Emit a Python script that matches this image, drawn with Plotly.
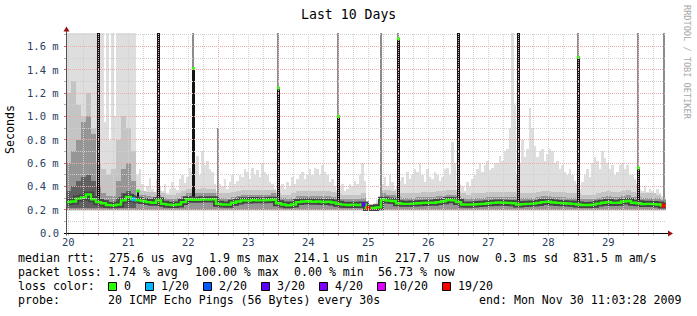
import math
import plotly.graph_objects as go

# ---------------- data (values in milliseconds, x in day-of-month) ----------------
start_day = 20.45833         # Nov 20 ~11:00
end_day = 30.45833           # Mon Nov 30 11:03:28
step = 1 / 12                # 2-hour samples
n_samples = 120
t = [20.5 + i * step for i in range(n_samples)]
hstep = 1 / 24               # 1-hour samples for the light smoke
t_hour = [20.5 - hstep / 2 + j * hstep for j in range(240)]

median_rtt = [
    0.265, 0.27, 0.295, 0.305, 0.33, 0.29,
    0.265, 0.255, 0.24, 0.237, 0.243, 0.28, 0.31, 0.29,
    0.28, 0.275, 0.265, 0.26, 0.28, 0.25, 0.243, 0.24, 0.245, 0.265,
    0.29, 0.285, 0.285, 0.29, 0.287, 0.29,
    0.25, 0.245, 0.243, 0.26, 0.27, 0.28, 0.278, 0.282, 0.28, 0.28, 0.283, 0.285,
    0.255, 0.245, 0.238, 0.245, 0.265, 0.27, 0.272, 0.268, 0.27, 0.265, 0.268, 0.262,
    0.25, 0.243, 0.24, 0.243, 0.24, 0.245,
    0.215, 0.215, 0.22, 0.285, 0.278, 0.275,
    0.255, 0.25, 0.25, 0.252, 0.255, 0.258, 0.26, 0.26, 0.265, 0.272, 0.283, 0.28,
    0.265, 0.245, 0.243, 0.245, 0.248, 0.25, 0.255, 0.258, 0.262, 0.26, 0.258, 0.255,
    0.245, 0.248, 0.25, 0.252, 0.258, 0.265, 0.268, 0.262, 0.258, 0.255, 0.253, 0.25,
    0.245, 0.24, 0.24, 0.243, 0.252, 0.26, 0.265, 0.258, 0.26, 0.27, 0.275, 0.26,
    0.255, 0.248, 0.25, 0.248, 0.245, 0.235,
]

# top of the light smoke (max ping), hourly
smoke_max = [
    # Nov 20 11h - Nov 21 ~15h : very noisy
    1.8, 1.8, 1.8, 1.8, 1.8, 1.8, 1.8, 1.8, 1.8, 1.8, 1.8, 1.8,
    1.8, 1.8, 1.8, 0.95, 1.8, 0.8, 1.8, 1.0, 1.8, 1.8, 1.8, 1.8,
    1.8, 1.8, 1.8, 1.8,
    # Nov 21 afternoon - Nov 22
    0.5, 0.55, 0.42, 0.36, 0.4, 0.47, 0.38, 0.35, 0.46, 0.4, 0.36, 0.42,
    0.34, 0.38, 0.44, 0.39, 0.37, 0.46, 0.5, 0.43, 0.48, 0.56, 0.52, 0.6,
    0.66, 0.5, 0.7, 0.58, 0.62, 0.55, 0.52, 0.42,
    # Nov 23
    0.36, 0.42, 0.4, 0.46, 0.38, 0.44, 0.5, 0.42, 0.45, 0.5, 0.48, 0.55,
    0.52, 0.46, 0.56, 0.5, 0.54, 0.48, 0.6, 0.52, 0.5, 0.44, 0.42, 0.38,
    # Nov 24
    0.36, 0.4, 0.42, 0.38, 0.44, 0.4, 0.48, 0.42, 0.46, 0.5, 0.52, 0.46,
    0.5, 0.55, 0.5, 0.56, 0.55, 0.5, 0.58, 0.52, 0.5, 0.44, 0.46, 0.4,
    # Nov 25
    0.37, 0.4, 0.42, 0.36, 0.38, 0.42, 0.4, 0.45, 0.42, 0.5, 0.6, 0.45,
    0.26, 0.25, 0.25, 0.26, 0.28, 0.3, 0.42, 0.48, 0.4, 0.5, 0.44, 0.38,
    # Nov 26
    0.4, 0.45, 0.48, 0.42, 0.52, 0.46, 0.5, 0.55, 0.52, 0.6, 0.5, 0.44,
    0.55, 0.48, 0.46, 0.52, 0.5, 0.45, 0.48, 0.55, 0.56, 0.5, 0.78, 0.6,
    # Nov 27
    0.38, 0.42, 0.4, 0.36, 0.44, 0.4, 0.46, 0.5, 0.55, 0.6, 0.52, 0.58,
    0.62, 0.54, 0.56, 0.6, 0.6, 0.66, 0.62, 0.7, 0.72, 0.9, 1.8, 1.1,
    # Nov 28
    0.5, 0.6, 0.8, 0.65, 0.72, 1.07, 0.9, 0.75, 0.65, 0.7, 0.72, 0.62,
    0.68, 0.72, 0.7, 0.6, 0.62, 0.55, 0.58, 0.52, 0.5, 0.55, 0.5, 0.45,
    # Nov 29
    0.42, 0.38, 0.44, 0.5, 0.55, 0.48, 0.6, 0.65, 0.62, 0.55, 0.7, 0.64,
    0.6, 0.55, 0.58, 0.5, 0.52, 0.58, 0.6, 0.55, 0.58, 0.5, 0.5, 0.46,
    # Nov 30
    0.42, 0.38, 0.36, 0.4, 0.35, 0.38, 0.36, 0.33, 0.38, 0.34, 0.32, 0.3,
]

# top of the medium-light smoke (2-hourly)
smoke_q2 = [
    1.2, 1.3, 1.1, 1.0, 1.2, 0.9,
    0.6, 0.55, 0.5, 0.55, 0.8, 1.0, 0.9, 0.7,
    0.37, 0.36, 0.35, 0.35, 0.37, 0.34, 0.33, 0.33, 0.34, 0.36,
    0.38, 0.38, 0.38, 0.39, 0.38, 0.38,
    0.34, 0.34, 0.34, 0.35, 0.36, 0.37, 0.37, 0.37, 0.37, 0.37, 0.37, 0.37,
    0.34, 0.33, 0.33, 0.34, 0.36, 0.36, 0.36, 0.36, 0.36, 0.36, 0.36, 0.35,
    0.34, 0.33, 0.33, 0.33, 0.33, 0.34,
    0.25, 0.25, 0.26, 0.37, 0.37, 0.36,
    0.34, 0.34, 0.34, 0.34, 0.34, 0.35, 0.35, 0.35, 0.36, 0.36, 0.37, 0.37,
    0.35, 0.34, 0.33, 0.34, 0.34, 0.34, 0.35, 0.35, 0.35, 0.35, 0.35, 0.35,
    0.34, 0.34, 0.34, 0.34, 0.35, 0.36, 0.36, 0.35, 0.35, 0.35, 0.34, 0.34,
    0.34, 0.33, 0.33, 0.33, 0.34, 0.35, 0.36, 0.35, 0.35, 0.36, 0.37, 0.35,
    0.34, 0.34, 0.34, 0.34, 0.33, 0.3,
]

# top of the medium smoke (2-hourly)
smoke_q3 = [
    0.6, 0.7, 0.8, 0.95, 1.0, 0.85,
    0.4, 0.34, 0.32, 0.32, 0.45, 0.55, 0.6, 0.45,
    0.33, 0.33, 0.32, 0.31, 0.33, 0.3, 0.29, 0.29, 0.3, 0.32,
    0.34, 0.34, 0.34, 0.34, 0.34, 0.34,
    0.3, 0.3, 0.29, 0.31, 0.32, 0.33, 0.33, 0.33, 0.33, 0.33, 0.33, 0.34,
    0.31, 0.3, 0.29, 0.3, 0.32, 0.32, 0.32, 0.32, 0.32, 0.32, 0.32, 0.31,
    0.3, 0.29, 0.29, 0.29, 0.29, 0.3,
    0.24, 0.24, 0.25, 0.34, 0.33, 0.33,
    0.31, 0.3, 0.3, 0.3, 0.31, 0.31, 0.31, 0.31, 0.32, 0.32, 0.33, 0.33,
    0.32, 0.3, 0.29, 0.3, 0.3, 0.3, 0.31, 0.31, 0.31, 0.31, 0.31, 0.31,
    0.3, 0.3, 0.3, 0.3, 0.31, 0.32, 0.32, 0.31, 0.31, 0.31, 0.3, 0.3,
    0.3, 0.29, 0.29, 0.29, 0.3, 0.31, 0.32, 0.31, 0.31, 0.32, 0.33, 0.31,
    0.31, 0.3, 0.3, 0.3, 0.3, 0.28,
]

# top of the dark smoke (only wide in the noisy first day)
smoke_dark = [
    0.36, 0.4, 0.45, 0.48, 0.5, 0.45,
    0.3, 0.28, 0.27, 0.27, 0.3, 0.34, 0.36, 0.33,
]

smoke_min_light = 0.19
smoke_min = 0.2

# packet-loss events on the median line (sample index, lost pings of 20)
loss_idx = [13, 59, 60, 119]
loss_val = [1, 3, 19, 19]

# single-sample median spikes (dark bars)
spike_day = [21.0, 21.66, 22.0, 22.58, 24.0, 25.0, 26.0, 27.0, 28.0, 29.0, 30.0]
spike_low = [0.27, 0.28, 0.27, 0.28, 0.27, 0.26, 0.27, 0.27, 0.25, 0.25, 0.26]
spike_top = [1.8, 0.36, 1.8, 1.41, 1.243, 1.0, 1.666, 1.8, 1.8, 1.506, 0.557]

# single-sample max-ping lines (thin)
maxline_day = [22.58, 23.0, 24.0, 25.0, 25.71, 26.0, 29.0, 30.0, 30.43]
maxline_low = [0.28, 0.25, 0.27, 0.26, 0.22, 0.27, 0.25, 0.26, 0.2]
maxline_top = [1.8, 0.9, 1.8, 1.8, 1.8, 1.8, 1.8, 1.8, 1.8]

x_tickvals = [20.5, 21.5, 22.5, 23.5, 24.5, 25.5, 26.5, 27.5, 28.5, 29.5]
x_ticktext = ["20", "21", "22", "23", "24", "25", "26", "27", "28", "29"]
y_tickvals = [0.0, 0.2, 0.4, 0.6, 0.8, 1.0, 1.2, 1.4, 1.6]
y_ticktext = ["0.0", "0.2 m", "0.4 m", "0.6 m", "0.8 m", "1.0 m", "1.2 m", "1.4 m", "1.6 m"]

loss_labels = ["0", "1/20", "2/20", "3/20", "4/20", "10/20", "19/20"]
loss_counts = [0, 1, 2, 3, 4, 10, 19]
loss_colors = ["#26ff00", "#00b8ff", "#0059ff", "#5e00ff", "#7e00ff", "#dd00ff", "#ff0000"]

legend_line1 = [("median rtt:", 17), ("275.6 us avg", 107.5), ("1.9 ms max", 207.5),
                ("214.1 us min", 293.3), ("217.7 us now", 393.5), ("0.3 ms sd", 494),
                ("831.5 m am/s", 572.3)]
legend_line2 = [("packet loss:", 17), ("1.74 % avg", 107.3), ("100.00 % max", 193.8),
                ("0.00 % min", 293.3), ("56.73 % now", 377)]
legend_line4 = [("probe:", 17), ("20 ICMP Echo Pings (56 Bytes) every 30s", 107.3)]
end_text = "end: Mon Nov 30 11:03:28 2009"

# ---------------- layout geometry ----------------
WIDTH, HEIGHT = 697, 316
L, T, W, H = 66, 33, 600, 200
Y_MAX = 1.715
MONO = "DejaVu Sans Mono"


def px(x):
    return (x - L) / W


def py(y):
    return (T + H - y) / H


def snap_y(v):
    ypix = T + H - v * H / Y_MAX
    return py(math.floor(ypix) + 0.5)


fig = go.Figure()

# light smoke (hourly)
fig.add_trace(go.Bar(x=t_hour, base=smoke_min_light, y=[v - smoke_min_light for v in smoke_max],
                     width=hstep, marker=dict(color="#dedede", line=dict(width=0)),
                     hoverinfo="skip"))
# medium-light smoke
fig.add_trace(go.Bar(x=t, base=smoke_min, y=[v - smoke_min for v in smoke_q2],
                     width=step, marker=dict(color="#c4c4c4", line=dict(width=0)),
                     hoverinfo="skip"))
# medium smoke
fig.add_trace(go.Bar(x=t, base=smoke_min, y=[v - smoke_min for v in smoke_q3],
                     width=step, marker=dict(color="#969696", line=dict(width=0)),
                     hoverinfo="skip"))
# dark smoke in the first noisy day
t_dark = t[:len(smoke_dark)]
fig.add_trace(go.Bar(x=t_dark, base=0.215, y=[v - 0.215 for v in smoke_dark],
                     width=step, marker=dict(color="#606060", line=dict(width=0)),
                     hoverinfo="skip"))

# max-ping thin lines
fig.add_trace(go.Bar(x=maxline_day, base=maxline_low,
                     y=[a - b for a, b in zip(maxline_top, maxline_low)],
                     width=1.2 / 60, marker=dict(color="#8c8c8c", line=dict(width=0)),
                     hoverinfo="skip"))
# median spikes
fig.add_trace(go.Bar(x=spike_day, base=spike_low,
                     y=[a - b for a, b in zip(spike_top, spike_low)],
                     width=2.6 / 60, marker=dict(color="#141414", line=dict(width=0)),
                     hoverinfo="skip"))

# median as step line: dark core + green
x_step = [v - step / 2 for v in t] + [t[-1] + step / 2]
y_step = median_rtt + [median_rtt[-1]]
fig.add_trace(go.Scatter(x=x_step, y=y_step, mode="lines", line=dict(color="#444444", width=6, shape="hv"),
                         hoverinfo="skip"))
fig.add_trace(go.Scatter(x=x_step, y=y_step, mode="lines", line=dict(color="#26ff00", width=2.4, shape="hv"),
                         hoverinfo="skip"))

# loss-coloured median points
color_of = dict(zip(loss_counts, loss_colors))
fig.add_trace(go.Scatter(x=[t[i] for i in loss_idx], y=[median_rtt[i] for i in loss_idx], mode="markers",
                         marker=dict(symbol="square", size=4, color=[color_of[v] for v in loss_val],
                                     line=dict(width=0)), hoverinfo="skip"))
# green tips of the median spikes
tips = [(d, v) for d, v in zip(spike_day, spike_top) if v < Y_MAX]
fig.add_trace(go.Scatter(x=[d for d, _ in tips], y=[v for _, v in tips], mode="markers",
                         marker=dict(symbol="square", size=3, color="#26ff00", line=dict(width=0)),
                         hoverinfo="skip"))

shapes = []
GRID_MINOR = "#d0d0d0"
GRID_MAJOR = "#eeaaaa"
DOT = "1px,1px"
# vertical grid (6 h minor, daily major)
k = 0
while True:
    d = 20.5 + 0.25 * k
    if d > end_day:
        break
    major = abs(d - round(d)) < 1e-9
    shapes.append(dict(type="line", xref="x", yref="paper", x0=d, x1=d, y0=0, y1=1, layer="above",
                       line=dict(color=GRID_MAJOR if major else GRID_MINOR, width=1, dash=DOT)))
    shapes.append(dict(type="line", xref="x", yref="paper", x0=d, x1=d, y0=py(T + H + 0.5), y1=py(T + H + 2.5),
                       layer="above", line=dict(color="#e06060" if major else "#b0b0b0", width=1)))
    k += 1
# horizontal grid (0.1 minor, 0.2 major)
for j in range(1, 18):
    v = 0.1 * j
    major = j % 2 == 0
    yy = snap_y(v)
    shapes.append(dict(type="line", xref="paper", yref="paper", x0=0, x1=1, y0=yy, y1=yy, layer="above",
                       line=dict(color=GRID_MAJOR if major else GRID_MINOR, width=1, dash=DOT)))
    shapes.append(dict(type="line", xref="paper", yref="paper", x0=px(L - 2), x1=px(L), y0=yy, y1=yy,
                       layer="above", line=dict(color="#e06060" if major else "#b0b0b0", width=1)))

# axes with arrows
shapes.append(dict(type="line", xref="paper", yref="paper", x0=px(L - 2), x1=px(L + W + 3),
                   y0=py(T + H + 0.5), y1=py(T + H + 0.5),
                   layer="above", line=dict(color="#000000", width=1)))
shapes.append(dict(type="line", xref="paper", yref="paper", x0=px(L + 0.5), x1=px(L + 0.5),
                   y0=py(T + H + 2.5), y1=py(30),
                   layer="above", line=dict(color="#505050", width=1)))
shapes.append(dict(type="path", xref="paper", yref="paper", layer="above",
                   path=f"M {px(L + W + 2)},{py(T + H - 2.5)} L {px(L + W + 7)},{py(T + H + 0.5)} "
                        f"L {px(L + W + 2)},{py(T + H + 3.5)} Z",
                   fillcolor="#9a1010", line=dict(width=0)))
shapes.append(dict(type="path", xref="paper", yref="paper", layer="above",
                   path=f"M {px(L - 2.5)},{py(31.5)} L {px(L + 0.5)},{py(26.5)} L {px(L + 3.5)},{py(31.5)} Z",
                   fillcolor="#9a1010", line=dict(width=0)))

# loss colour boxes
box_x = [108, 145, 203, 261, 319, 377, 442]
label_x = [122.5, 159.5, 217.5, 275.5, 333.5, 391.5, 456.5]
for bx, col in zip(box_x, loss_colors):
    shapes.append(dict(type="rect", xref="paper", yref="paper", x0=px(bx + 0.5), x1=px(bx + 8.5),
                       y0=py(290.5), y1=py(282.5), fillcolor=col, line=dict(color="#000000", width=1)))

annotations = []


def text(s, x, y, size=11.6, anchor="left", color="#000000", angle=0):
    annotations.append(dict(text=s, x=px(x), y=py(y), xref="paper", yref="paper", showarrow=False,
                            xanchor=anchor, yanchor="middle", textangle=angle,
                            font=dict(family=MONO, size=size, color=color)))


text("Last 10 Days", 348, 14, size=13.2, anchor="center")
text("Seconds", 10, 130, size=11.6, anchor="center", angle=-90)
text("RRDTOOL / TOBI OETIKER", 687, 62, size=8.6, anchor="center", color="#a8a8a8", angle=90)

for v, s in zip(x_tickvals, x_ticktext):
    annotations.append(dict(text=s, x=v, y=py(242), xref="x", yref="paper", showarrow=False,
                            xanchor="center", yanchor="middle", font=dict(family=MONO, size=10.5)))
for v, s in zip(y_tickvals, y_ticktext):
    annotations.append(dict(text=s, x=px(61), y=v, xref="paper", yref="y", showarrow=False,
                            xanchor="right", yanchor="middle", font=dict(family=MONO, size=10.5)))

for s, x in legend_line1:
    text(s, x - 1, 258.3)
for s, x in legend_line2:
    text(s, x - 1, 272.3)
text("loss color:", 16, 286)
for s, x in zip(loss_labels, label_x):
    text(s, x - 1, 286)
for s, x in legend_line4:
    text(s, x - 1, 300)
text(end_text, 682.5, 300, anchor="right")

fig.update_layout(
    width=WIDTH, height=HEIGHT,
    margin=dict(l=L, r=WIDTH - L - W, t=T, b=HEIGHT - T - H, pad=0),
    paper_bgcolor="#ffffff", plot_bgcolor="#ffffff",
    showlegend=False, barmode="overlay", bargap=0,
    xaxis=dict(range=[start_day, end_day], showgrid=False, zeroline=False, showline=False,
               showticklabels=False, ticks="", fixedrange=True),
    yaxis=dict(range=[0, Y_MAX], showgrid=False, zeroline=False, showline=False,
               showticklabels=False, ticks="", fixedrange=True),
    shapes=shapes, annotations=annotations,
)

fig.write_html("out.html")
